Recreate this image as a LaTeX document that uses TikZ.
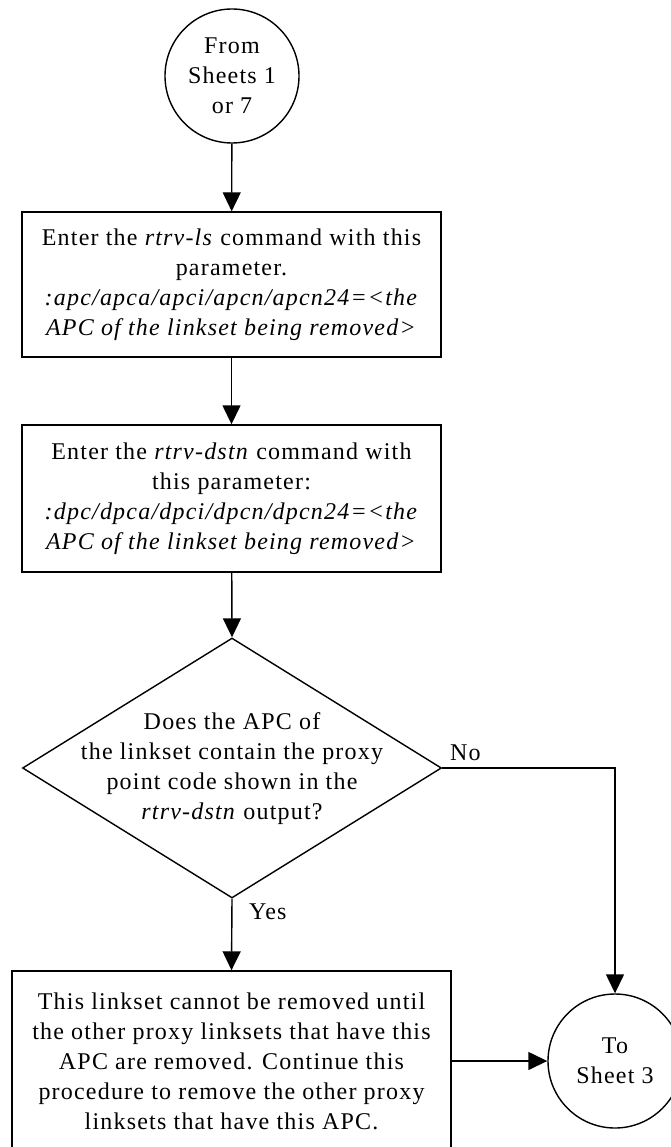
\documentclass[tikz,border=0pt]{standalone}
\usepackage{fontspec}
\setmainfont{Liberation Serif}[LetterSpace=5]
\usetikzlibrary{shapes.geometric,arrows.meta}
\begin{document}
\begin{tikzpicture}[x=1pt,y=-1pt,
  every node/.style={font=\fontsize{24}{30}\selectfont},
  flow/.style={line width=1.4pt,-{Triangle[length=19pt,width=18pt]}},
  procbox/.style={draw,line width=1.4pt,rectangle,minimum width=419pt,minimum height=145pt,align=center,inner sep=0pt},
  conn/.style={draw,circle,line width=1.4pt,minimum size=134pt,align=center,inner sep=0pt},
  decision/.style={draw,diamond,line width=1.4pt,minimum width=419pt,minimum height=260pt,inner sep=0pt},
  lbl/.style={anchor=west,inner sep=0pt}]
\useasboundingbox (0,0) rectangle (670,1147);
\node[conn] (c1) at (232,76) {From\\Sheets 1\\or 7};
\node[procbox] (b1) at (231.5,284.5) {Enter the \textit{rtrv-ls} command with this\\parameter.\\\textit{:apc/apca/apci/apcn/apcn24=<the}\\\textit{APC of the linkset being removed>}};
\node[procbox,minimum height=147pt] (b2) at (231.5,498.5) {Enter the \textit{rtrv-dstn} command with\\this parameter:\\\textit{:dpc/dpca/dpci/dpcn/dpcn24=<the}\\\textit{APC of the linkset being removed>}};
\node[decision] (d) at (232,768) {};
\node[align=center,inner sep=0pt] (dtext) at (232,769) {Does the APC of\\the linkset contain the proxy\\point code shown in the\\\textit{rtrv-dstn} output?};
\node[procbox,minimum width=439pt,minimum height=180pt] (b3) at (231.5,1061) {This linkset cannot be removed until\\the other proxy linksets that have this\\APC are removed. Continue this\\procedure to remove the other proxy\\linksets that have this APC.};
\node[conn] (c2) at (615,1061) {To\\Sheet 3};
\draw[flow] (c1) -- (b1);
\draw[flow] (b1) -- (b2);
\draw[flow] (b2) -- (d.north);
\draw[flow] (d.south) -- (b3.north);
\draw[flow] (d.east) -| (c2.north);
\draw[flow] (b3.east) -- (c2.west);
\node[lbl] (yes) at (249,912) {Yes};
\node[lbl] (no) at (450,753) {No};
\end{tikzpicture}
\end{document}
